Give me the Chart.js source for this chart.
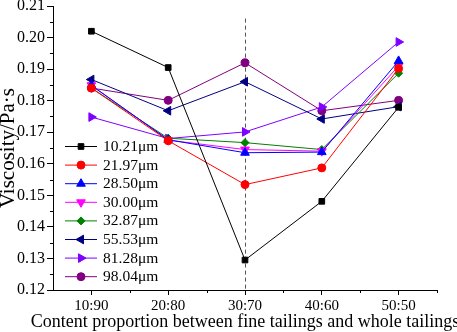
<!DOCTYPE html>
<html>
<head>
<meta charset="utf-8">
<script src="https://cdn.jsdelivr.net/npm/chart.js@4.4.0/dist/chart.umd.min.js"></script>
<style>
  html, body { margin: 0; padding: 0; background: #fff; }
  #wrap { width: 457px; height: 332px; }
</style>
</head>
<body>
<div id="wrap"><canvas id="viscosityChart" width="457" height="332"></canvas></div>
<script>
const proportions = ['10:90', '20:80', '30:70', '40:60', '50:50'];
const sizeLabels = ['10.21μm', '21.97μm', '28.50μm', '30.00μm', '32.87μm', '55.53μm', '81.28μm', '98.04μm'];
const xTitle = 'Content proportion between fine tailings and whole tailings';
const yTitle = 'Viscosity/Pa·s';

const v1021 = [0.2020, 0.1905, 0.1295, 0.1481, 0.1779];
const v2197 = [0.1840, 0.1673, 0.1534, 0.1587, 0.1902];
const v2850 = [0.1848, 0.1676, 0.1635, 0.1637, 0.1926];
const v3000 = [0.1849, 0.1675, 0.1645, 0.1640, 0.1910];
const v3287 = [0.1840, 0.1681, 0.1667, 0.1645, 0.1887];
const v5553 = [0.1867, 0.1768, 0.1860, 0.1742, 0.1781];
const v8128 = [0.1748, 0.1680, 0.1701, 0.1780, 0.1986];
const v9804 = [0.1840, 0.1801, 0.1920, 0.1768, 0.1801];

const yTicks = [0.12, 0.13, 0.14, 0.15, 0.16, 0.17, 0.18, 0.19, 0.20, 0.21];

const seriesValues = [v1021, v2197, v2850, v3000, v3287, v5553, v8128, v9804];
const seriesColors = ['#000000', '#ff0000', '#0000ff', '#ff00ff', '#008000', '#000080', '#8000ff', '#800080'];
const seriesStyles = ['rect', 'circle', 'triangle', 'triangle', 'rectRot', 'triangle', 'triangle', 'circle'];
const seriesRotation = [0, 0, 0, 180, 0, 270, 90, 0];

const serif = '"Liberation Serif", "Times New Roman", serif';

const datasets = seriesValues.map((vals, i) => ({
    label: sizeLabels[i],
    data: vals,
    borderColor: seriesColors[i],
    backgroundColor: seriesColors[i],
    borderWidth: 1,
    pointStyle: seriesStyles[i],
    rotation: seriesRotation[i],
    pointRadius: seriesStyles[i] === 'triangle' ? 5 : 4,
    pointBorderWidth: 1,
    tension: 0
}));

function drawMarker(ctx, style, rotation, radius, x, y) {
    if (Chart.helpers && Chart.helpers.drawPoint) {
        Chart.helpers.drawPoint(ctx, { pointStyle: style, rotation: rotation, radius: radius, borderWidth: 1 }, x, y);
    } else {
        ctx.beginPath();
        ctx.arc(x, y, radius, 0, Math.PI * 2);
        ctx.fill();
        ctx.stroke();
    }
}

// extra decorations: minor ticks, dashed guide at 30:70, x title, legend inside plot
const decorPlugin = {
    id: 'decor',
    beforeDatasetsDraw(chart) {
        const { ctx, chartArea, scales } = chart;
        const xs = scales.x, ys = scales.y;
        ctx.save();
        const gx = Math.round(xs.getPixelForValue(2)) + 0.5;
        ctx.strokeStyle = '#555';
        ctx.lineWidth = 1;
        ctx.setLineDash([4, 3]);
        ctx.beginPath();
        ctx.moveTo(gx, ys.getPixelForValue(0.206));
        ctx.lineTo(gx, chartArea.bottom);
        ctx.stroke();
        ctx.setLineDash([]);
        ctx.restore();
    },
    afterDraw(chart) {
        const { ctx, chartArea, scales } = chart;
        const xs = scales.x, ys = scales.y;
        ctx.save();
        ctx.strokeStyle = '#000';
        ctx.lineWidth = 1;
        const step = xs.getPixelForValue(1) - xs.getPixelForValue(0);
        for (let i = 0; i < proportions.length; i++) {
            const px = Math.round(xs.getPixelForValue(i) + step / 2) + 0.5;
            ctx.beginPath();
            ctx.moveTo(px, chartArea.bottom);
            ctx.lineTo(px, chartArea.bottom + 3);
            ctx.stroke();
        }
        for (let i = 0; i < yTicks.length - 1; i++) {
            const py = Math.round(ys.getPixelForValue((yTicks[i] + yTicks[i + 1]) / 2)) + 0.5;
            ctx.beginPath();
            ctx.moveTo(chartArea.left, py);
            ctx.lineTo(chartArea.left - 3, py);
            ctx.stroke();
        }
        // x title, drawn by hand so it is not squeezed to the axis width
        ctx.fillStyle = '#000';
        ctx.font = '18px ' + serif;
        ctx.textAlign = 'center';
        ctx.textBaseline = 'middle';
        ctx.fillText(xTitle, (chartArea.left + chartArea.right) / 2, 322);
        // legend
        const lx0 = chartArea.left + 12, lx1 = chartArea.left + 44, tx = chartArea.left + 50;
        let ly = 146;
        ctx.font = '15.5px ' + serif;
        ctx.textAlign = 'left';
        chart.data.datasets.forEach((ds) => {
            ctx.strokeStyle = ds.borderColor;
            ctx.fillStyle = ds.backgroundColor;
            ctx.lineWidth = 1;
            ctx.beginPath();
            ctx.moveTo(lx0, ly + 0.5);
            ctx.lineTo(lx1, ly + 0.5);
            ctx.stroke();
            drawMarker(ctx, ds.pointStyle, ds.rotation, ds.pointRadius, (lx0 + lx1) / 2, ly + 0.5);
            ctx.fillStyle = '#000';
            ctx.fillText(ds.label, tx, ly + 1);
            ly += 18.6;
        });
        ctx.restore();
    }
};

const ctx = document.getElementById('viscosityChart').getContext('2d');
const viscosityChart = new Chart(ctx, {
    type: 'line',
    data: { labels: proportions, datasets: datasets },
    options: {
        responsive: false,
        animation: false,
        devicePixelRatio: 1,
        layout: { padding: { top: 5, right: 20, left: 0, bottom: 0 } },
        plugins: { legend: { display: false }, tooltip: { enabled: false } },
        scales: {
            x: {
                type: 'category',
                offset: true,
                grid: { display: true, drawOnChartArea: false, drawTicks: true, tickLength: 5, color: '#000', offset: false },
                border: { display: true, color: '#000', width: 1 },
                ticks: { color: '#000', font: { family: serif, size: 15 }, padding: 2, maxRotation: 0 },
                title: { display: false },
                afterFit(scale) { scale.height = 42; scale.paddingLeft = 0; scale.paddingRight = 0; }
            },
            y: {
                min: 0.12,
                max: 0.21,
                afterBuildTicks(scale) { scale.ticks = yTicks.map(v => ({ value: v })); },
                grid: { display: true, drawOnChartArea: false, drawTicks: true, tickLength: 6, color: '#000' },
                border: { display: true, color: '#000', width: 1 },
                ticks: { color: '#000', font: { family: serif, size: 16 }, padding: 2, callback: v => Number(v).toFixed(2) },
                title: { display: true, text: yTitle, color: '#000', font: { family: serif, size: 21, lineHeight: 1 }, padding: { top: -2, bottom: 0 } },
                afterFit(scale) { scale.width = 53; scale.paddingTop = 0; scale.paddingBottom = 0; }
            }
        }
    },
    plugins: [decorPlugin]
});
</script>
</body>
</html>
